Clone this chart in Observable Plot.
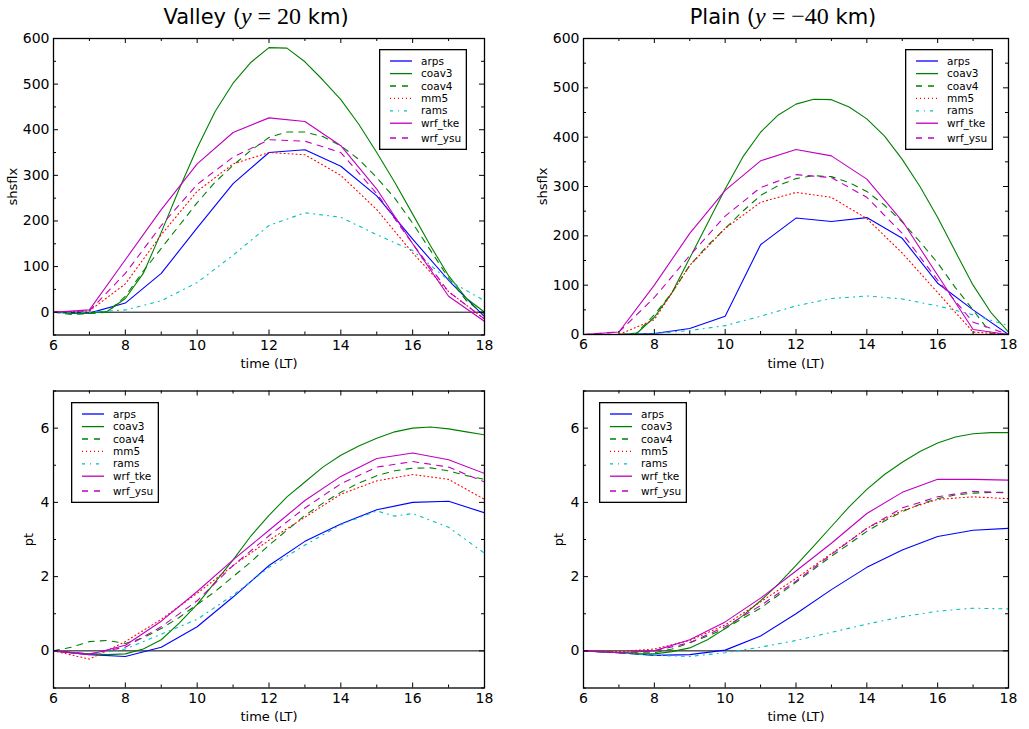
<!DOCTYPE html>
<html><head><meta charset="utf-8">
<script src="https://cdn.jsdelivr.net/npm/d3@7"></script>
<script src="https://cdn.jsdelivr.net/npm/@observablehq/plot@0.6"></script>
<style>
body{margin:0;background:#fff;font-family:"DejaVu Sans",sans-serif;}
#root{position:relative;width:1029px;height:729px;overflow:hidden;background:#fff;}
.panel{position:absolute;}
.title{position:absolute;font-size:21px;white-space:nowrap;transform:translate(-50%,-50%);color:#000;}
.m{font-family:"Liberation Serif",serif;font-size:24px;}
.legend{position:absolute;}
svg [aria-label="x-axis label"] text, svg [aria-label="y-axis label"] text{font-size:13px;}
</style></head><body><div id="root"></div>
<script>
// ---- data ----
const hours = [6,7,8,9,10,11,12,13,14,15,16,17,18];
const halfHours = [6,6.5,7,7.5,8,8.5,9,9.5,10,10.5,11,11.5,12,12.5,13,13.5,14,14.5,15,15.5,16,16.5,17,17.5,18];
const ramsValleyHours = [6,7,8,9,10,11,12,13,14,15,15.5,16,17,18];
const names = ["arps","coav3","coav4","mm5","rams","wrf_tke","wrf_ysu"];

// Valley shsflx
const vf_arps  = [0,-2,20,85,185,282,350,356,320,255,160,70,-10];
const vf_coav3 = [0,-3,-2,2,30,85,175,270,360,440,502,548,580,579,549,509,466,412,350,285,215,145,80,30,0];
const vf_coav4 = [0,-5,-3,0,35,90,140,190,240,285,322,355,383,395,395,385,365,335,295,250,195,135,75,25,-5];
const vf_mm5   = [0,3,62,170,265,325,350,345,300,225,130,45,-15];
const vf_rams  = [0,0,5,25,65,125,190,218,208,170,135,70,25];
const vf_tke   = [0,5,115,225,325,394,426,418,365,270,150,35,-20];
const vf_ysu   = [0,3,85,190,280,340,378,375,350,260,150,45,-15];

// Plain shsflx
const pf_arps  = [0,0,2,12,37,182,236,229,237,195,104,50,0];
const pf_coav3 = [0,0,0,2,35,85,155,225,295,360,410,445,467,477,476,461,437,402,355,300,237,168,100,45,5];
const pf_coav4 = [0,0,0,3,40,85,140,180,215,250,282,302,316,322,320,308,290,262,228,188,145,95,50,2,0];
const pf_mm5   = [0,0,30,140,215,268,288,278,235,165,85,5,0];
const pf_rams  = [0,0,2,8,18,37,58,73,78,72,58,40,18];
const pf_tke   = [0,5,100,205,292,352,375,362,315,230,120,10,0];
const pf_ysu   = [0,5,75,160,240,298,324,318,278,205,110,25,0];

// Valley pt
const vt_arps  = [0,-0.1,-0.15,0.1,0.65,1.45,2.3,2.95,3.42,3.8,4.0,4.03,3.72];
const vt_coav3 = [0,-0.05,-0.08,-0.1,-0.08,0.05,0.3,0.75,1.25,1.85,2.45,3.1,3.65,4.15,4.55,4.95,5.27,5.52,5.73,5.9,6.0,6.03,5.98,5.9,5.82];
const vt_coav4 = [0,0.1,0.25,0.28,0.2,0.35,0.6,0.9,1.25,1.6,2.0,2.4,2.85,3.25,3.65,3.98,4.27,4.52,4.72,4.85,4.92,4.93,4.85,4.72,4.62];
const vt_mm5   = [0,-0.22,0.25,0.85,1.55,2.3,2.98,3.6,4.22,4.58,4.75,4.62,4.08];
const vt_rams  = [0,-0.1,0.05,0.45,0.85,1.5,2.25,2.85,3.4,3.77,3.63,3.7,3.33,2.63];
const vt_tke   = [0,-0.1,0.15,0.8,1.6,2.45,3.25,4.05,4.7,5.18,5.33,5.15,4.78];
const vt_ysu   = [0,-0.08,0.1,0.65,1.35,2.3,3.1,3.85,4.5,4.95,5.1,4.95,4.55];

// Plain pt
const pt_arps  = [0,-0.05,-0.12,-0.1,0.02,0.4,1.0,1.65,2.25,2.72,3.08,3.25,3.3];
const pt_coav3 = [0,-0.02,-0.05,-0.08,-0.08,-0.02,0.08,0.3,0.6,0.95,1.35,1.8,2.3,2.82,3.35,3.88,4.35,4.75,5.08,5.37,5.6,5.76,5.85,5.88,5.88];
const pt_coav4 = [0,-0.02,-0.05,-0.05,-0.05,0.05,0.22,0.4,0.6,0.88,1.15,1.5,1.85,2.2,2.55,2.88,3.22,3.5,3.75,3.95,4.1,4.2,4.25,4.27,4.27];
const pt_mm5   = [0,-0.02,0.05,0.28,0.7,1.32,1.95,2.62,3.3,3.78,4.08,4.15,4.1];
const pt_rams  = [0,-0.05,-0.12,-0.15,-0.05,0.1,0.28,0.5,0.72,0.92,1.07,1.15,1.13];
const pt_tke   = [0,-0.05,0.0,0.3,0.78,1.42,2.15,2.9,3.7,4.27,4.62,4.62,4.6];
const pt_ysu   = [0,-0.05,0.0,0.22,0.65,1.22,1.88,2.6,3.3,3.85,4.15,4.3,4.25];

const xMajor = [6,8,10,12,14,16,18];
const xMinor = [7,9,11,13,15,17];
const fluxMajor = [0,100,200,300,400,500,600];
const fluxMinor = [-50,50,150,250,350,450,550];
const ptMajor = [0,2,4,6];
const ptMinor = [-1,1,3,5,7];

// ---- styles ----
const colors = {arps:"#0000ff",coav3:"#008000",coav4:"#008000",mm5:"#ff0000",rams:"#00bfbf",wrf_tke:"#bf00bf",wrf_ysu:"#bf00bf"};
const dashes = {arps:null,coav3:null,coav4:"6,6",mm5:"1,3",rams:"3,5,1,5",wrf_tke:null,wrf_ysu:"6,6"};

function S(name, t, v){ return {name, t, v}; }

const panels = [
  {left:0, top:0, width:500, height:372, mt:38, mb:37.5, ml:53, mr:16,
   yDomain:[-50,600], yMajor:fluxMajor, yMinor:fluxMinor, yLabel:"shsflx", yLabelOffset:46,
   legend:{x:379, y:49},
   series:[S("arps",hours,vf_arps),S("coav3",halfHours,vf_coav3),S("coav4",halfHours,vf_coav4),S("mm5",hours,vf_mm5),S("rams",hours,vf_rams),S("wrf_tke",hours,vf_tke),S("wrf_ysu",hours,vf_ysu)]},
  {left:500, top:0, width:529, height:372, mt:38, mb:38, ml:83, mr:21,
   yDomain:[0,600], yMajor:fluxMajor, yMinor:[50,150,250,350,450,550], yLabel:"shsflx", yLabelOffset:46,
   legend:{x:905, y:49},
   series:[S("arps",hours,pf_arps),S("coav3",halfHours,pf_coav3),S("coav4",halfHours,pf_coav4),S("mm5",hours,pf_mm5),S("rams",hours,pf_rams),S("wrf_tke",hours,pf_tke),S("wrf_ysu",hours,pf_ysu)]},
  {left:0, top:372, width:500, height:357, mt:18.5, mb:41.5, ml:53, mr:16,
   yDomain:[-1,7], yMajor:ptMajor, yMinor:ptMinor, yLabel:"pt", yLabelOffset:30,
   legend:{x:71, y:402},
   series:[S("arps",hours,vt_arps),S("coav3",halfHours,vt_coav3),S("coav4",halfHours,vt_coav4),S("mm5",hours,vt_mm5),S("rams",ramsValleyHours,vt_rams),S("wrf_tke",hours,vt_tke),S("wrf_ysu",hours,vt_ysu)]},
  {left:500, top:372, width:529, height:357, mt:18.5, mb:41.5, ml:83, mr:21,
   yDomain:[-1,7], yMajor:ptMajor, yMinor:ptMinor, yLabel:"pt", yLabelOffset:30,
   legend:{x:599, y:402},
   series:[S("arps",hours,pt_arps),S("coav3",halfHours,pt_coav3),S("coav4",halfHours,pt_coav4),S("mm5",hours,pt_mm5),S("rams",hours,pt_rams),S("wrf_tke",hours,pt_tke),S("wrf_ysu",hours,pt_ysu)]}
];

const root = document.getElementById("root");

for (const p of panels) {
  const fh = p.height - p.mt - p.mb;
  const fw = p.width - p.ml - p.mr;
  const marks = [
    Plot.ruleY([0], {stroke:"#000", strokeWidth:1}),
    ...p.series.map(s => Plot.line(s.t.map((t,i)=>({t, v:s.v[i]})), {
      x:"t", y:"v", stroke:colors[s.name], strokeDasharray:dashes[s.name], strokeWidth:1.1, clip:true
    })),
    // inward ticks on all four sides
    Plot.tickX(xMajor, {x:d=>d, insetBottom:fh-5, stroke:"#000"}),
    Plot.tickX(xMajor, {x:d=>d, insetTop:fh-5, stroke:"#000"}),
    Plot.tickX(xMinor, {x:d=>d, insetBottom:fh-3, stroke:"#000"}),
    Plot.tickX(xMinor, {x:d=>d, insetTop:fh-3, stroke:"#000"}),
    Plot.tickY(p.yMajor, {y:d=>d, insetRight:fw-5, stroke:"#000"}),
    Plot.tickY(p.yMajor, {y:d=>d, insetLeft:fw-5, stroke:"#000"}),
    Plot.tickY(p.yMinor, {y:d=>d, insetRight:fw-3, stroke:"#000"}),
    Plot.tickY(p.yMinor, {y:d=>d, insetLeft:fw-3, stroke:"#000"}),
    Plot.frame({stroke:"#000", strokeWidth:1.3}),
    Plot.axisX({ticks:xMajor, tickSize:0, tickPadding:5, label:"time (LT)", labelAnchor:"center", labelArrow:"none", labelOffset:33}),
    Plot.axisY({ticks:p.yMajor, tickSize:0, tickPadding:4, label:p.yLabel, labelAnchor:"center", labelArrow:"none", labelOffset:p.yLabelOffset})
  ];
  const chart = Plot.plot({
    width:p.width, height:p.height,
    marginTop:p.mt, marginBottom:p.mb, marginLeft:p.ml, marginRight:p.mr,
    x:{domain:[6,18]}, y:{domain:p.yDomain},
    style:{fontSize:"14px", fontFamily:"DejaVu Sans", color:"#000", background:"transparent"},
    marks
  });
  const wrap = document.createElement("div");
  wrap.className = "panel";
  wrap.style.left = p.left + "px";
  wrap.style.top = p.top + "px";
  wrap.appendChild(chart);
  root.appendChild(wrap);

  // legend
  const lw = 88, lh = 101;
  const offs = [12, 24.6, 37, 49.4, 61.8, 74.2, 89];
  const lg = d3.create("svg").attr("width", lw).attr("height", lh)
    .style("font-family", "DejaVu Sans").style("font-size", "10.5px");
  lg.append("rect").attr("x",0.65).attr("y",0.65).attr("width",lw-1.3).attr("height",lh-1.3)
    .attr("fill","#fff").attr("stroke","#000").attr("stroke-width",1.3);
  names.forEach((n,i) => {
    lg.append("line").attr("x1",11).attr("x2",33).attr("y1",offs[i]).attr("y2",offs[i])
      .attr("stroke",colors[n]).attr("stroke-width",1.3).attr("stroke-dasharray",dashes[n]);
    lg.append("text").attr("x",42).attr("y",offs[i]).attr("dy","0.35em").attr("fill","#000").text(n);
  });
  const ld = document.createElement("div");
  ld.className = "legend";
  ld.style.left = p.legend.x + "px";
  ld.style.top = p.legend.y + "px";
  ld.appendChild(lg.node());
  root.appendChild(ld);
}

// titles
function title(x, y, html){
  const d = document.createElement("div");
  d.className = "title";
  d.style.left = x + "px"; d.style.top = y + "px";
  d.innerHTML = html;
  root.appendChild(d);
}
title(256, 16, 'Valley (<span class="m"><i>y</i> = 20</span> km)');
title(783, 16, 'Plain (<span class="m"><i>y</i> = &minus;40</span> km)');
</script></body></html>
